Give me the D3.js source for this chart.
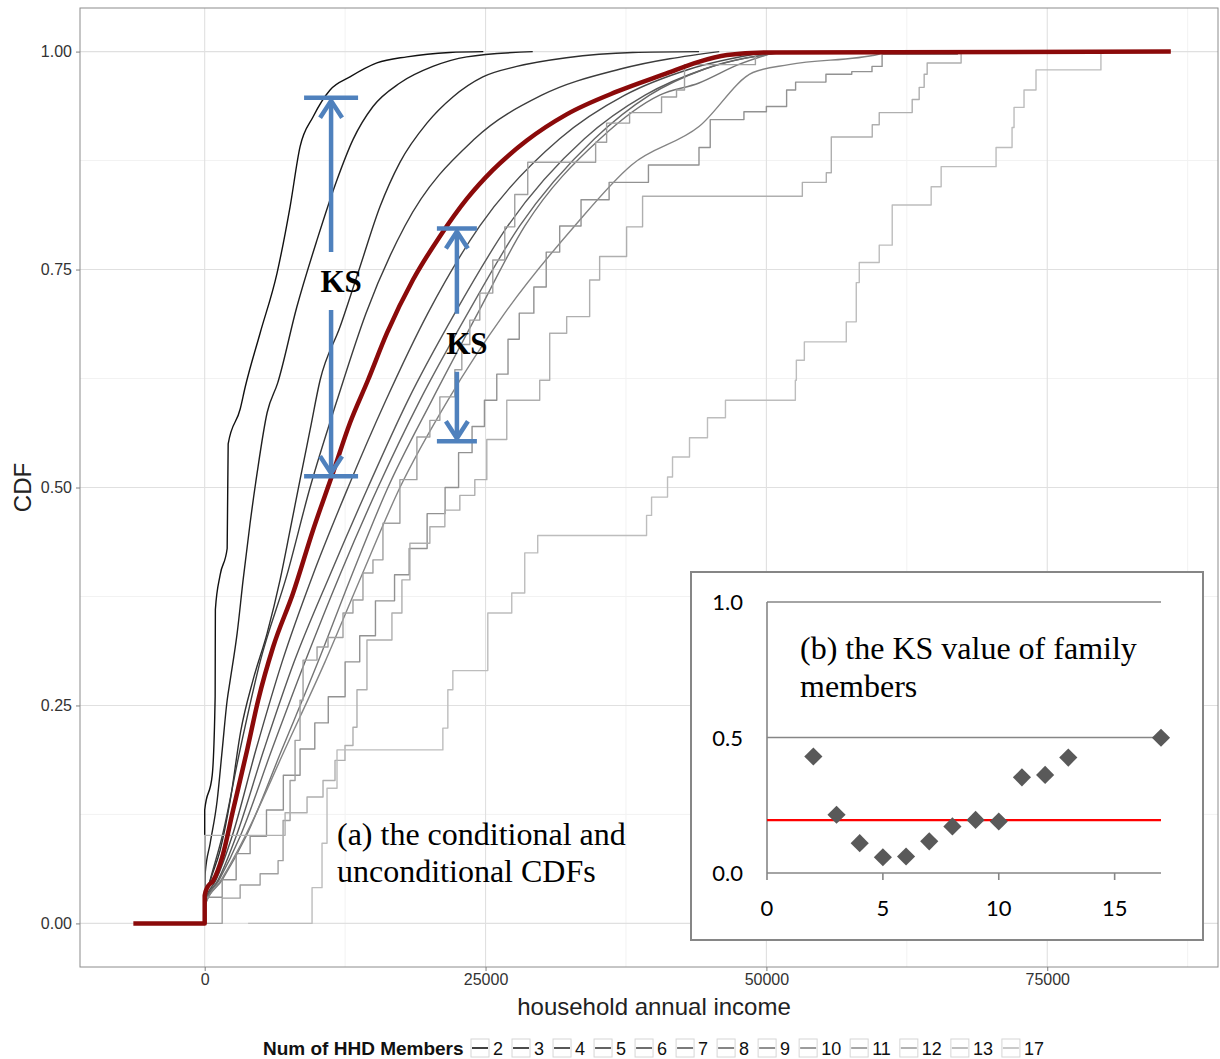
<!DOCTYPE html>
<html>
<head>
<meta charset="utf-8">
<title>household income CDF by HHD members</title>
<script src="https://cdnjs.cloudflare.com/ajax/libs/d3/7.8.5/d3.min.js"></script>
<style>
  body { margin: 0; background: #fff; }
  text { font-family: "Liberation Sans", Arial, sans-serif; }
  .serif { font-family: "Liberation Serif", "Times New Roman", serif; }
  .calib { font-family: Lato, "Open Sans", sans-serif; }
</style>
</head>
<body>
<svg id="chart" width="1220" height="1059"></svg>
<script>
// ---- data: [household annual income, CDF] ----
const members = ["2", "3", "4", "5", "6", "7", "8", "9", "10", "11", "12", "13", "17"];

const cdf2 = [[0,0],[0,0.03],[0,0.13],[670,0.17],[930,0.26],[950,0.36],[1380,0.40],[2000,0.43],[2090,0.55],[3160,0.59],[3600,0.615],[4930,0.677],[6440,0.746],[7600,0.822],[8490,0.891],[9640,0.925],[11160,0.956],[12930,0.971],[15330,0.987],[18000,0.994],[21800,0.999],[24800,1]];
const cdf3 = [[0,0],[0,0.03],[40,0.057],[490,0.092],[1110,0.141],[1560,0.199],[2000,0.256],[2270,0.279],[2890,0.333],[3420,0.394],[4040,0.459],[4670,0.517],[5560,0.586],[6500,0.62],[8200,0.707],[10000,0.784],[11780,0.853],[13200,0.899],[14980,0.937],[17380,0.964],[20310,0.983],[23330,0.994],[29200,1]];
const cdf4 = [[0,0],[0,0.026],[490,0.049],[1380,0.084],[2270,0.141],[3200,0.22],[4300,0.279],[5560,0.333],[6710,0.394],[7600,0.451],[8490,0.509],[9380,0.566],[10270,0.623],[12040,0.684],[13820,0.753],[15600,0.822],[17380,0.873],[19780,0.918],[22090,0.948],[24760,0.971],[27780,0.983],[32200,0.993],[38100,0.999],[44000,1]];
const cdf5 = [[0,0],[0,0.026],[490,0.05],[1560,0.1],[3160,0.2],[4930,0.3],[7330,0.4],[9380,0.5],[11780,0.6],[14360,0.7],[17820,0.8],[24040,0.9],[30000,0.95],[37000,0.98],[45800,1]];
const cdf6 = [[0,0],[0,0.025],[1020,0.05],[2440,0.1],[4580,0.2],[6890,0.3],[9640,0.4],[12760,0.5],[16130,0.6],[19870,0.7],[24490,0.8],[31600,0.9],[37400,0.95],[43200,0.98],[50300,1]];
const cdf7 = [[0,0],[0,0.024],[1200,0.05],[2800,0.1],[5290,0.2],[7960,0.3],[11160,0.4],[14530,0.5],[18090,0.6],[22270,0.7],[26980,0.8],[33800,0.9],[39200,0.95],[44500,0.98],[51600,1]];
const cdf8 = [[0,0],[0,0.022],[1290,0.05],[3160,0.1],[6000,0.2],[8930,0.3],[12040,0.4],[15420,0.5],[19160,0.6],[23420,0.7],[28040,0.8],[34700,0.9],[39600,0.95],[44500,0.98],[52000,1]];
const cdf9 = [[0,0],[0,0.02],[1560,0.05],[3690,0.1],[6890,0.2],[10090,0.3],[13110,0.4],[16310,0.5],[20220,0.6],[24310,0.7],[28500,0.8],[35200,0.9],[40500,0.95],[44000,0.964],[47500,0.985],[51000,1]];
const cdf10 = [[0,0],[0,0.02],[1470,0.05],[3600,0.1],[7160,0.2],[10710,0.3],[14000,0.4],[17380,0.5],[21640,0.6],[26710,0.7],[32930,0.8],[38000,0.87],[44000,0.914],[48800,0.976],[52000,0.985],[60000,0.997],[60500,1]];
const cdf11 = [[0,0],[0,0.03],[1556,0.05],[2800,0.08],[4044,0.1],[5500,0.13],[7000,0.17],[8489,0.2],[9800,0.23],[11000,0.26],[12500,0.3],[13800,0.33],[15200,0.37],[16900,0.4],[18200,0.43],[19800,0.47],[21400,0.5],[22600,0.54],[23800,0.57],[24900,0.6],[26000,0.63],[27000,0.67],[28000,0.7],[29300,0.73],[30400,0.77],[31600,0.8],[33500,0.83],[36000,0.85],[39500,0.87],[44000,0.89],[45000,0.922],[48000,0.931],[50000,0.937],[51800,0.956],[52600,0.965],[55300,0.974],[57600,0.977],[59400,0.983],[60300,0.997],[67000,1]];
const cdf12 = [[0,0],[1556,0.029],[3156,0.044],[4933,0.057],[6533,0.072],[6978,0.118],[7600,0.164],[8044,0.21],[8489,0.256],[8756,0.302],[10000,0.317],[10978,0.328],[12311,0.356],[13200,0.371],[14089,0.402],[14978,0.417],[15867,0.459],[17378,0.509],[18889,0.558],[20044,0.577],[20933,0.604],[22267,0.635],[22889,0.664],[23600,0.692],[24489,0.723],[25644,0.761],[26711,0.799],[27600,0.836],[28756,0.873],[34800,0.896],[35778,0.918],[37822,0.93],[40667,0.948],[42000,0.956],[42711,0.985],[49022,0.997],[49556,1]];
const cdf13 = [[0,0],[0,0.101],[7156,0.127],[9111,0.145],[10533,0.164],[11600,0.187],[12489,0.204],[13200,0.225],[13556,0.268],[14444,0.325],[16667,0.356],[17556,0.394],[18267,0.436],[20044,0.455],[21378,0.474],[22711,0.491],[24044,0.509],[25111,0.555],[26889,0.6],[29822,0.623],[30711,0.677],[32222,0.696],[34267,0.738],[35156,0.765],[37556,0.799],[38978,0.834],[53200,0.85],[55333,0.861],[55778,0.902],[59422,0.916],[60044,0.93],[62978,0.945],[63600,0.959],[64044,0.974],[64311,0.987],[67333,1]];
const cdf17 = [[3867,0],[9556,0.041],[10444,0.092],[10889,0.155],[11778,0.199],[21200,0.224],[21644,0.268],[22089,0.29],[25200,0.356],[27333,0.379],[28489,0.425],[29644,0.445],[39333,0.468],[39778,0.489],[41200,0.512],[41644,0.535],[43156,0.557],[44756,0.58],[46356,0.6],[52578,0.623],[52667,0.646],[53378,0.667],[57111,0.69],[58000,0.735],[58267,0.758],[60044,0.778],[61200,0.824],[64667,0.845],[65556,0.868],[70444,0.89],[71867,0.913],[72044,0.936],[72933,0.956],[74000,0.979],[79778,1],[86000,1]];
const cdfAll = [[-6350,0],[0,0],[0,0.032],[220,0.041],[760,0.049],[1560,0.076],[2530,0.13],[3780,0.199],[4760,0.256],[6090,0.317],[7870,0.379],[9640,0.451],[11420,0.517],[12930,0.574],[14530,0.623],[16220,0.677],[18530,0.738],[20930,0.788],[23330,0.831],[25640,0.864],[28670,0.898],[32220,0.928],[36670,0.954],[41110,0.975],[43900,0.988],[46500,0.996],[49900,0.999],[86000,1]];

const seriesByMember = {"2": cdf2, "3": cdf3, "4": cdf4, "5": cdf5, "6": cdf6, "7": cdf7, "8": cdf8,
  "9": cdf9, "10": cdf10, "11": cdf11, "12": cdf12, "13": cdf13, "17": cdf17};
const steppedMembers = ["11", "12", "13", "17"];

const xTicks = [0, 25000, 50000, 75000];
const xMinor = [12500, 37500, 62500, 87500];
const yTicks = [0, 0.25, 0.5, 0.75, 1];
const yMinor = [0.125, 0.375, 0.625, 0.875];

// KS annotations: income where the arrow sits, upper and lower CDF, label position
const ksArrows = [
  {income: 11250, hi: 0.947, lo: 0.513, label: 0.737, half: 27},
  {income: 22450, hi: 0.797, lo: 0.553, label: 0.666, half: 20}
];

// inset (b): KS value by number of family members
const ksMembers = [2, 3, 4, 5, 6, 7, 8, 9, 10, 11, 12, 13, 17];
const ksValues = [0.43, 0.215, 0.11, 0.058, 0.061, 0.117, 0.172, 0.196, 0.19, 0.353, 0.362, 0.426, 0.499];
const ksThreshold = 0.195;
const insetXTicks = [0, 5, 10, 15];
const insetYTicks = [0, 0.5, 1];

// ---- chart ----
const svg = d3.select("#chart");
const panel = {left: 80, right: 1218, top: 8, bottom: 967};

const x = d3.scaleLinear().domain([-11100, 90200]).range([panel.left, panel.right]);
const y = d3.scaleLinear().domain([-0.05, 1.05]).range([panel.bottom, panel.top]);
const grey = d3.scaleLinear().domain([0, members.length - 1]).range(["#111111", "#bdbdbd"]);
const colour = d3.scaleOrdinal().domain(members).range(members.map((m, i) => grey(i)));

svg.append("rect").attr("width", 1220).attr("height", 1059).attr("fill", "#fff");

// grid
const grid = svg.append("g");
grid.selectAll(".xmin").data(xMinor).join("line")
  .attr("x1", d => x(d)).attr("x2", d => x(d)).attr("y1", panel.top).attr("y2", panel.bottom)
  .attr("stroke", "#f2f2f2").attr("stroke-width", 1);
grid.selectAll(".ymin").data(yMinor).join("line")
  .attr("y1", d => y(d)).attr("y2", d => y(d)).attr("x1", panel.left).attr("x2", panel.right)
  .attr("stroke", "#f2f2f2").attr("stroke-width", 1);
grid.selectAll(".xmaj").data(xTicks).join("line")
  .attr("x1", d => x(d)).attr("x2", d => x(d)).attr("y1", panel.top).attr("y2", panel.bottom)
  .attr("stroke", "#e0e0e0").attr("stroke-width", 1.1);
grid.selectAll(".ymaj").data(yTicks).join("line")
  .attr("y1", d => y(d)).attr("y2", d => y(d)).attr("x1", panel.left).attr("x2", panel.right)
  .attr("stroke", "#e0e0e0").attr("stroke-width", 1.1);

svg.append("clipPath").attr("id", "clip").append("rect")
  .attr("x", panel.left).attr("y", panel.top)
  .attr("width", panel.right - panel.left).attr("height", panel.bottom - panel.top);

const lineSmooth = d3.line().curve(d3.curveMonotoneX).x(d => x(d[0])).y(d => y(d[1]));
const lineStep = d3.line().curve(d3.curveStepAfter).x(d => x(d[0])).y(d => y(d[1]));

const plot = svg.append("g").attr("clip-path", "url(#clip)");
plot.selectAll(".cdf").data(members).join("path")
  .attr("d", m => (steppedMembers.includes(m) ? lineStep : lineSmooth)(seriesByMember[m]))
  .attr("fill", "none")
  .attr("stroke", m => colour(m))
  .attr("stroke-width", 1.4)
  .attr("stroke-linejoin", "round");

plot.append("path")
  .attr("d", lineSmooth(cdfAll))
  .attr("fill", "none")
  .attr("stroke", "#8b0a0a")
  .attr("stroke-width", 4.5)
  .attr("stroke-linejoin", "round");

// panel border
svg.append("rect")
  .attr("x", panel.left).attr("y", panel.top)
  .attr("width", panel.right - panel.left).attr("height", panel.bottom - panel.top)
  .attr("fill", "none").attr("stroke", "#8c8c8c").attr("stroke-width", 1);

// axes
const xAxis = svg.append("g").attr("transform", `translate(0,${panel.bottom})`)
  .call(d3.axisBottom(x).tickValues(xTicks).tickFormat(d3.format("d")).tickSize(4).tickPadding(3));
const yAxis = svg.append("g").attr("transform", `translate(${panel.left},0)`)
  .call(d3.axisLeft(y).tickValues(yTicks).tickFormat(d3.format(".2f")).tickSize(4).tickPadding(4));
[xAxis, yAxis].forEach(a => {
  a.select(".domain").remove();
  a.selectAll("line").attr("stroke", "#7f7f7f");
  a.selectAll("text").attr("fill", "#333").style("font-size", "16px")
    .style("font-family", '"Liberation Sans", Arial, sans-serif');
});

svg.append("text").attr("x", (panel.left + panel.right) / 2 + 5).attr("y", 1015)
  .attr("text-anchor", "middle").attr("font-size", 24).attr("fill", "#222")
  .text("household annual income");
svg.append("text").attr("transform", `translate(31,${(panel.top + panel.bottom) / 2}) rotate(-90)`)
  .attr("text-anchor", "middle").attr("font-size", 24).attr("fill", "#222")
  .text("CDF");

// KS arrows
const blue = "#4f81bd";
const ann = svg.append("g").attr("stroke", blue).attr("stroke-width", 4.5).attr("fill", "none");
ksArrows.forEach(a => {
  const cx = x(a.income), yHi = y(a.hi), yLo = y(a.lo), yLab = y(a.label);
  ann.append("line").attr("x1", cx - a.half).attr("x2", cx + a.half).attr("y1", yHi).attr("y2", yHi);
  ann.append("line").attr("x1", cx - a.half).attr("x2", cx + a.half).attr("y1", yLo).attr("y2", yLo);
  ann.append("line").attr("x1", cx).attr("x2", cx).attr("y1", yHi + 3).attr("y2", yLab - 29);
  ann.append("line").attr("x1", cx).attr("x2", cx).attr("y1", yLab + 29).attr("y2", yLo - 3);
  ann.append("path").attr("d", `M${cx - 11},${yHi + 20}L${cx},${yHi + 3}L${cx + 11},${yHi + 20}`);
  ann.append("path").attr("d", `M${cx - 11},${yLo - 20}L${cx},${yLo - 3}L${cx + 11},${yLo - 20}`);
  svg.append("text").attr("class", "serif").attr("x", cx + 10).attr("y", yLab + 11)
    .attr("text-anchor", "middle").attr("font-size", 31).attr("font-weight", "bold").attr("fill", "#000")
    .text("KS");
});

// caption (a)
const capA = svg.append("text").attr("class", "serif").attr("font-size", 32).attr("fill", "#000");
capA.append("tspan").attr("x", 337).attr("y", 845).text("(a) the conditional and");
capA.append("tspan").attr("x", 337).attr("y", 882).text("unconditional CDFs");

// ---- inset (b) ----
const inset = svg.append("g");
inset.append("rect").attr("x", 691).attr("y", 572).attr("width", 512).attr("height", 368)
  .attr("fill", "#fff").attr("stroke", "#868686").attr("stroke-width", 2);

const ix = d3.scaleLinear().domain([0, 17]).range([767, 1161]);
const iy = d3.scaleLinear().domain([0, 1]).range([873, 602]);

inset.selectAll(".ig").data(insetYTicks).join("line")
  .attr("x1", ix(0)).attr("x2", ix(17)).attr("y1", d => iy(d)).attr("y2", d => iy(d))
  .attr("stroke", "#868686").attr("stroke-width", 1.6);
inset.append("line").attr("x1", ix(0)).attr("x2", ix(0)).attr("y1", iy(1)).attr("y2", iy(0))
  .attr("stroke", "#868686").attr("stroke-width", 1.6);
inset.selectAll(".ixt").data(insetXTicks).join("line")
  .attr("x1", d => ix(d)).attr("x2", d => ix(d)).attr("y1", iy(0)).attr("y2", iy(0) + 7)
  .attr("stroke", "#868686").attr("stroke-width", 1.6);
inset.selectAll(".ixl").data(insetXTicks).join("text").attr("class", "calib")
  .attr("x", d => ix(d)).attr("y", iy(0) + 43).attr("text-anchor", "middle")
  .attr("font-size", 22).attr("fill", "#000").text(d => d);
inset.selectAll(".iyl").data(insetYTicks).join("text").attr("class", "calib")
  .attr("x", 743).attr("y", d => iy(d) + 8).attr("text-anchor", "end")
  .attr("font-size", 22).attr("fill", "#000").text(d => d3.format(".1f")(d));

inset.append("line").attr("x1", ix(0)).attr("x2", ix(17))
  .attr("y1", iy(ksThreshold)).attr("y2", iy(ksThreshold))
  .attr("stroke", "#ff0000").attr("stroke-width", 2.2);

inset.selectAll(".dia").data(ksMembers).join("path")
  .attr("d", d3.symbol(d3.symbolSquare, 165))
  .attr("transform", (m, i) => `translate(${ix(m)},${iy(ksValues[i])}) rotate(45)`)
  .attr("fill", "#595959");

const capB = inset.append("text").attr("class", "serif").attr("font-size", 32).attr("fill", "#000");
capB.append("tspan").attr("x", 800).attr("y", 659).text("(b) the KS value of family");
capB.append("tspan").attr("x", 800).attr("y", 697).text("members");

// ---- legend ----
const legend = svg.append("g");
legend.append("text").attr("x", 263).attr("y", 1055).attr("font-size", 19).attr("font-weight", "bold")
  .attr("fill", "#111").text("Num of HHD Members");
let lx = 471;
members.forEach(m => {
  const item = legend.append("g");
  item.append("rect").attr("x", lx).attr("y", 1039).attr("width", 18).attr("height", 18)
    .attr("fill", "#fff").attr("stroke", "#d6d6d6").attr("stroke-width", 1);
  item.append("line").attr("x1", lx + 1).attr("x2", lx + 17).attr("y1", 1048).attr("y2", 1048)
    .attr("stroke", colour(m)).attr("stroke-width", 1.6);
  const t = item.append("text").attr("x", lx + 22).attr("y", 1055).attr("font-size", 18)
    .attr("fill", "#111").text(m);
  lx += 22 + t.node().getComputedTextLength() + 9;
});
</script>
</body>
</html>
